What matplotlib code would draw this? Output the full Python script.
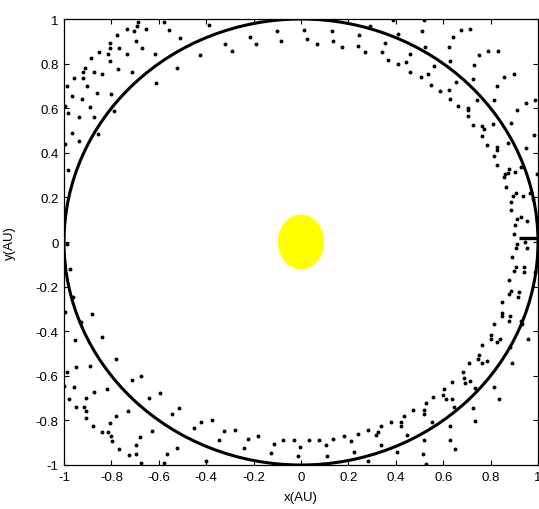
import matplotlib
matplotlib.use("Agg")
import matplotlib.pyplot as plt
from matplotlib.patches import Circle, Ellipse

plt.rcParams['font.family'] = ['Liberation Sans', 'DejaVu Sans']

# Earth orbit radius (AU), Sun size (AU), short marker line
orbit_radius = 1.0
sun_width, sun_height = 0.195, 0.246
line_x = [0.918, 1.0]
line_y = [0.018, 0.018]

# scattered trajectory points (x, y in AU)
pts_top_left = [
    (-0.686, 0.987), (-0.579, 0.987), (-0.694, 0.967), (-0.736, 0.957), (-0.652, 0.957),
    (-0.704, 0.948), (-0.556, 0.951), (-0.388, 0.975), (-0.777, 0.927), (-0.510, 0.916),
    (-0.805, 0.893), (-0.698, 0.903), (-0.808, 0.869), (-0.769, 0.869), (-0.672, 0.869),
    (-0.852, 0.852), (-0.815, 0.845), (-0.736, 0.845), (-0.615, 0.845), (-0.887, 0.823),
    (-0.804, 0.811), (-0.319, 0.887), (-0.291, 0.857), (-0.425, 0.839), (-0.911, 0.782),
    (-0.918, 0.764), (-0.875, 0.764), (-0.773, 0.776), (-0.524, 0.782), (-0.712, 0.764),
    (-0.838, 0.752), (-0.958, 0.736), (-0.918, 0.736), (-0.901, 0.700), (-0.986, 0.700),
    (-0.611, 0.712), (-0.860, 0.670), (-0.800, 0.664), (-0.966, 0.654), (-0.925, 0.642),
    (-0.996, 0.608), (-0.891, 0.606), (-0.982, 0.578), (-0.791, 0.587), (-0.938, 0.560),
    (-0.875, 0.560), (-0.966, 0.491), (-0.856, 0.484), (-0.935, 0.451), (-0.997, 0.438),
]
pts_top_mid = [
    (-0.214, 0.921), (-0.190, 0.887), (-0.102, 0.945), (-0.084, 0.903), (0.013, 0.951),
    (0.027, 0.911), (0.066, 0.887), (0.129, 0.945), (0.135, 0.903), (0.171, 0.875),
    (0.291, 0.969), (0.246, 0.927), (0.240, 0.881), (0.271, 0.851), (0.390, 0.997),
    (0.411, 0.933), (0.354, 0.893), (0.341, 0.851), (0.369, 0.817), (0.411, 0.799),
    (0.445, 0.805), (0.460, 0.845), (0.460, 0.764),
]
pts_top_right = [
    (0.517, 0.996), (0.510, 0.945), (0.676, 0.952), (0.715, 0.957), (0.642, 0.921),
    (0.625, 0.875), (0.522, 0.876), (0.563, 0.787), (0.628, 0.812), (0.753, 0.840),
    (0.791, 0.858), (0.832, 0.858), (0.731, 0.793), (0.505, 0.742), (0.536, 0.752),
    (0.550, 0.706), (0.587, 0.676), (0.623, 0.682), (0.630, 0.642), (0.653, 0.717),
    (0.727, 0.729), (0.827, 0.700), (0.857, 0.742), (0.899, 0.752), (0.813, 0.636),
    (0.743, 0.636), (0.662, 0.608), (0.703, 0.602), (0.703, 0.590), (0.704, 0.564),
    (0.948, 0.623), (0.986, 0.635), (0.912, 0.594), (0.727, 0.524), (0.765, 0.518),
    (0.771, 0.508), (0.762, 0.477), (0.786, 0.436), (0.812, 0.530), (0.888, 0.533),
    (0.983, 0.478), (0.828, 0.426), (0.825, 0.414), (0.874, 0.444), (0.949, 0.420),
    (0.813, 0.384), (0.828, 0.344), (0.879, 0.326), (0.874, 0.311), (0.860, 0.305),
    (0.855, 0.292), (0.927, 0.336), (0.905, 0.314), (0.994, 0.303), (0.865, 0.247),
    (0.965, 0.221), (0.908, 0.221), (0.893, 0.207), (0.935, 0.205), (0.887, 0.180),
    (0.980, 0.195), (0.886, 0.145), (0.928, 0.110), (0.911, 0.101), (0.952, 0.092),
    (0.901, 0.078), (0.997, 0.098), (0.897, 0.035),
]
pts_bottom_right = [
    (0.911, -0.007), (0.907, -0.025), (0.945, 0.001), (0.952, -0.025), (0.890, -0.066),
    (0.908, -0.111), (0.898, -0.130), (0.939, -0.113), (0.939, -0.135), (0.878, -0.171),
    (0.877, -0.235), (0.886, -0.219), (0.918, -0.225), (0.917, -0.245), (0.987, -0.133),
    (0.849, -0.271), (0.848, -0.317), (0.850, -0.332), (0.876, -0.353), (0.883, -0.332),
    (0.928, -0.354), (0.931, -0.368), (0.813, -0.368), (0.801, -0.417), (0.803, -0.433),
    (0.827, -0.450), (0.841, -0.436), (0.956, -0.433), (0.882, -0.469), (0.892, -0.544),
    (0.762, -0.462), (0.749, -0.505), (0.746, -0.524), (0.763, -0.544), (0.786, -0.532),
    (0.707, -0.544), (0.684, -0.585), (0.686, -0.608), (0.690, -0.633), (0.715, -0.624),
    (0.735, -0.654), (0.813, -0.650), (0.837, -0.706), (0.638, -0.626), (0.605, -0.659),
    (0.601, -0.687), (0.610, -0.706), (0.559, -0.696), (0.526, -0.724), (0.517, -0.752),
    (0.517, -0.770), (0.471, -0.754), (0.638, -0.706), (0.646, -0.738), (0.725, -0.744),
    (0.734, -0.802), (0.553, -0.806), (0.628, -0.824), (0.435, -0.782), (0.424, -0.807),
    (0.449, -0.864), (0.517, -0.890), (0.629, -0.889), (0.650, -0.928), (0.513, -0.952),
    (0.527, -0.995),
]
pts_bottom_mid = [
    (-0.323, -0.846), (-0.278, -0.842), (-0.222, -0.882), (-0.181, -0.872), (-0.242, -0.924),
    (-0.126, -0.946), (-0.116, -0.906), (-0.075, -0.888), (-0.029, -0.888), (-0.006, -0.918),
    (-0.011, -0.958), (0.032, -0.888), (0.078, -0.888), (0.105, -0.912), (0.111, -0.958),
    (0.133, -0.882), (0.180, -0.872), (0.212, -0.894), (0.225, -0.940), (0.240, -0.860),
    (0.281, -0.842), (0.281, -0.981), (0.316, -0.866), (0.327, -0.854), (0.337, -0.825),
    (0.337, -0.912), (0.380, -0.808), (0.404, -0.942), (0.421, -0.825),
]
pts_left = [
    (-0.982, 0.321), (-0.986, -0.007), (-0.976, -0.123), (-0.961, -0.245), (-0.997, -0.315),
    (-0.928, -0.357), (-0.883, -0.321), (-0.953, -0.439), (-0.838, -0.427), (-0.949, -0.562),
    (-0.891, -0.556), (-0.986, -0.585), (-0.782, -0.526), (-0.998, -0.644), (-0.958, -0.650),
    (-0.980, -0.706), (-0.907, -0.700), (-0.875, -0.671), (-0.949, -0.741), (-0.915, -0.741),
    (-0.908, -0.760), (-0.907, -0.787), (-0.818, -0.658), (-0.713, -0.620), (-0.676, -0.602),
    (-0.731, -0.758), (-0.782, -0.782), (-0.879, -0.823), (-0.808, -0.812), (-0.841, -0.852),
    (-0.813, -0.852), (-0.800, -0.872), (-0.796, -0.894), (-0.767, -0.928), (-0.727, -0.957),
    (-0.698, -0.951), (-0.698, -0.911), (-0.680, -0.876), (-0.641, -0.700), (-0.597, -0.677),
    (-0.629, -0.847), (-0.676, -0.991), (-0.577, -0.991), (-0.564, -0.951), (-0.545, -0.770),
    (-0.514, -0.746), (-0.524, -0.922), (-0.453, -0.835), (-0.421, -0.806), (-0.376, -0.800),
    (-0.347, -0.888), (-0.401, -0.982),
]

ticks = [-1, -0.8, -0.6, -0.4, -0.2, 0, 0.2, 0.4, 0.6, 0.8, 1]
tick_labels = ['-1', '-0.8', '-0.6', '-0.4', '-0.2', '0', '0.2', '0.4', '0.6', '0.8', '1']

all_pts = pts_top_left + pts_top_mid + pts_top_right + pts_bottom_right + pts_bottom_mid + pts_left
xs = [p[0] for p in all_pts]
ys = [p[1] for p in all_pts]

fig = plt.figure(figsize=(5.39, 5.10), dpi=100)
ax = fig.add_axes([64 / 539, 44 / 510, 474 / 539, 446 / 510])

ax.add_patch(Circle((0, 0), orbit_radius, fill=False, edgecolor='black', lw=2.2, zorder=3))
ax.add_patch(Ellipse((0, 0), sun_width, sun_height, facecolor='#ffff00', edgecolor='none', zorder=2))
ax.plot(xs, ys, linestyle='none', marker='o', ms=2.8, mfc='black', mec='none', zorder=4)
ax.plot(line_x, line_y, color='black', lw=2.4, solid_capstyle='butt', zorder=5)

ax.set_xlim(-1, 1)
ax.set_ylim(-1, 1)
ax.set_xticks(ticks)
ax.set_xticklabels(tick_labels)
ax.set_yticks(ticks)
ax.set_yticklabels(tick_labels)
ax.tick_params(direction='in', length=3.5, width=0.8, top=True, right=True,
               labelsize=9.5, pad=4, colors='black')
for s in ax.spines.values():
    s.set_linewidth(0.9)

ax.set_xlabel('x(AU)', fontsize=9.5)
ax.set_ylabel('y(AU)', fontsize=9.5)
ax.xaxis.set_label_coords(0.5, -0.058)
ax.yaxis.set_label_coords(-0.101, 0.5)

fig.savefig('out.png', dpi=100)
